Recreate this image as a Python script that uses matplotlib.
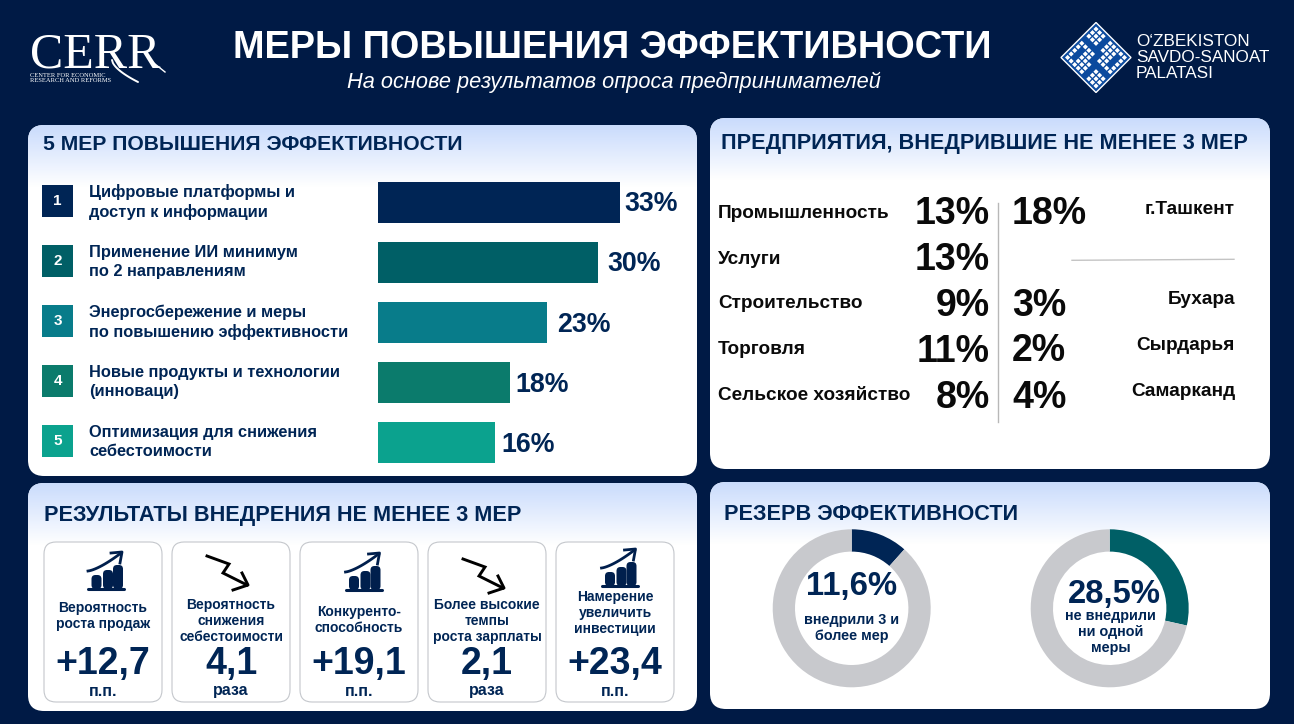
import matplotlib
matplotlib.use('Agg')
import matplotlib.pyplot as plt
import numpy as np
from matplotlib.patches import FancyBboxPatch, Rectangle, Polygon

plt.rcParams['font.family'] = ['Liberation Sans', 'DejaVu Sans']

measures = ['Цифровые платформы и\nдоступ к информации',
            'Применение ИИ минимум\nпо 2 направлениям',
            'Энергосбережение и меры\nпо повышению эффективности',
            'Новые продукты и технологии\n(инноваци)',
            'Оптимизация для снижения\nсебестоимости']
measure_vals = [33, 30, 23, 18, 16]
measure_cols = ['#002555', '#005F66', '#087C8A', '#0B7B6C', '#0BA28E']

sectors = ['Промышленность', 'Услуги', 'Строительство', 'Торговля', 'Сельское хозяйство']
sector_vals = [13, 13, 9, 11, 8]
regions = ['г.Ташкент', 'Бухара', 'Сырдарья', 'Самарканд']
region_vals = [18, 3, 2, 4]

card_labels = ['Вероятность\nроста продаж', 'Вероятность\nснижения\nсебестоимости',
               'Конкуренто-\nспособность', 'Более высокие\nтемпы\nроста зарплаты',
               'Намерение\nувеличить\nинвестиции']
card_vals = ['+12,7', '4,1', '+19,1', '2,1', '+23,4']
card_units = ['п.п.', 'раза', 'п.п.', 'раза', 'п.п.']
card_up = [True, False, True, False, True]

donut_vals = [11.6, 28.5]
donut_cols = ['#002555', '#005F66']

NAVY = '#002555'
BG = '#001A45'
INK = '#0A0A0A'
W, H = 1294, 724

fig = plt.figure(figsize=(W / 100, H / 100), dpi=100, facecolor=BG)
ax = fig.add_axes([0, 0, 1, 1], zorder=0)
ax.set_xlim(0, W)
ax.set_ylim(H, 0)
ax.axis('off')

grad = np.linspace(0, 1, 256).reshape(-1, 1)
c0 = np.array([0.79, 0.86, 0.99])
c1 = np.array([1.0, 1.0, 1.0])
grad_img = c0 + (c1 - c0) * grad[..., None]


def panel(x0, y0, x1, y1, title, tx, ty, fs):
    box = FancyBboxPatch((x0 + 16, y0 + 16), x1 - x0 - 32, y1 - y0 - 32,
                         boxstyle='round,pad=16,rounding_size=16', fc='white', ec='none', zorder=1)
    ax.add_patch(box)
    im = ax.imshow(grad_img, extent=(x0, x1, y0 + 62, y0), aspect='auto', zorder=1.1)
    im.set_clip_path(box)
    ax.set_xlim(0, W)
    ax.set_ylim(H, 0)
    ax.text(tx, ty, title, fontsize=fs, fontweight='bold', color=NAVY, va='center', ha='left', zorder=3)


# header
ax.text(612, 48, 'МЕРЫ ПОВЫШЕНИЯ ЭФФЕКТИВНОСТИ', color='white', fontsize=27.4, fontweight='bold',
        ha='center', va='center')
ax.text(614, 82, 'На основе результатов опроса предпринимателей', color='white', fontsize=15.65,
        style='italic', ha='center', va='center')

# CERR logo
ax.text(30, 68, 'CERR', color='white', fontsize=36, family='Liberation Serif', ha='left', va='baseline')
ax.text(30, 78, 'CENTER FOR ECONOMIC\nRESEARCH AND REFORMS', color='white', fontsize=4.7,
        family='Liberation Serif', ha='left', va='center', linespacing=0.95)
t = np.linspace(0, 1, 30)
ax.plot(112 + 26 * t, 60 + 22 * t ** 0.6, color='white', lw=1.4, solid_capstyle='round')
ax.plot(150 + 15 * t, 60 + 12 * t, color='white', lw=1)

# chamber logo
cx, cy, r = 1096, 57.5, 35
ax.add_patch(Polygon([(cx, cy - r), (cx + r, cy), (cx, cy + r), (cx - r, cy)], fc='#0B4A9E', ec='white', lw=1))
cells = ['XXX.XXXXX', 'XXX.XXX.X', 'XXX.XXX.X', '.....XX.X', 'XXXX.XXXX',
         'X.XX.....', 'X.XXX.XXX', 'X.XXX.XXX', 'XXXXX.XXX']
a, s = 3.55, 2.6
for i, row in enumerate(cells):
    for j, ch in enumerate(row):
        if ch != 'X':
            continue
        px, py = cx + (j - i) * a, cy + (i + j - 8) * a
        ax.add_patch(Polygon([(px, py - s), (px + s, py), (px, py + s), (px - s, py)], fc='white', ec='none', zorder=2))
for y, line in zip((41, 57, 73), ('O‘ZBEKISTON', 'SAVDO-SANOAT', 'PALATASI')):
    ax.text(1136, y, line, color='white', fontsize=12.3, va='center', ha='left')

panel(28, 125, 697, 476, '5 МЕР ПОВЫШЕНИЯ ЭФФЕКТИВНОСТИ', 43, 145, 15.2)
panel(710, 118, 1270, 469, 'ПРЕДПРИЯТИЯ, ВНЕДРИВШИЕ НЕ МЕНЕЕ 3 МЕР', 721, 144, 15.6)
panel(28, 483, 697, 711, 'РЕЗУЛЬТАТЫ ВНЕДРЕНИЯ НЕ МЕНЕЕ 3 МЕР', 44, 515, 15.6)
panel(710, 482, 1270, 709, 'РЕЗЕРВ ЭФФЕКТИВНОСТИ', 724, 515, 15.6)

# panel 1: ranked bars
bar_ax = fig.add_axes([378 / W, 1 - 473 / H, 242 / W, 301 / H], zorder=1)
bar_ax.patch.set_alpha(0)
y_pos = np.arange(len(measure_vals))
bar_ax.barh(y_pos, measure_vals, height=0.68, color=measure_cols)
bar_ax.set_xlim(0, 33)
bar_ax.set_ylim(4.5, -0.5)
bar_ax.axis('off')
label_gap = [3.3, 7.0, 7.6, 4.2, 4.2]
for i, v in enumerate(measure_vals):
    bar_ax.annotate(f'{v}%', (v, i), xytext=(label_gap[i], -1.5), textcoords='offset points', color=NAVY,
                    fontsize=19.3, fontweight='bold', va='center', ha='left', annotation_clip=False)
for i, (label, col) in enumerate(zip(measures, measure_cols)):
    yc = 201 + i * 60
    ax.add_patch(Rectangle((42, yc - 16), 31, 32, fc=col, ec='none', zorder=3))
    ax.text(57.5, yc, str(i + 1), color='white', fontsize=11, fontweight='bold', ha='center', va='center', zorder=4)
    ax.text(89, yc + 1, label, color=NAVY, fontsize=11.75, fontweight='bold', ha='left', va='center',
            linespacing=1.3, zorder=4)

# panel 2: sectors and regions
sector_y = [212, 257, 302, 348, 393]
sector_num_y = [212, 258, 304, 350, 396]
for name, val, y, ny in zip(sectors, sector_vals, sector_y, sector_num_y):
    ax.text(718, y + 2, name, color=INK, fontsize=13.7, fontweight='bold', ha='left', va='center', zorder=3)
    ax.text(990, ny + 2, f'{val}%', color=INK, fontsize=27, fontweight='bold', ha='right', va='center', zorder=3)
region_y = [212, 304, 349, 396]
region_label_y = [207, 298, 343, 389]
for name, val, y, ly in zip(regions, region_vals, region_y, region_label_y):
    ax.text(1012, y + 2, f'{val}%', color=INK, fontsize=27, fontweight='bold', ha='left', va='center', zorder=3)
    ax.text(1235, ly + 2, name, color=INK, fontsize=13.7, fontweight='bold', ha='right', va='center', zorder=3)
ax.plot([997.5, 997.5], [203, 422], color='#B8B8B8', lw=1, zorder=3)
ax.plot([1072, 1234], [260.3, 259.3], color='#C4C4C4', lw=1, zorder=3)


# panel 3: cards
def icon_up(xc, base):
    for left, width, h in zip((-14.5, -3, 7), (10, 10, 10), (14, 19, 24)):
        ax.add_patch(FancyBboxPatch((xc + left, base - h), width, h, boxstyle='round,pad=0,rounding_size=4',
                                    fc='#001F4D', ec='none', zorder=4))
    ax.plot([xc - 18, xc + 18], [base, base], color='#001F4D', lw=2.2, solid_capstyle='round', zorder=4)
    t = np.linspace(0, 1, 20)
    ax.plot(xc - 18 + 33 * t, base - 18 - 18 * t ** 1.4, color='#001F4D', lw=2, zorder=4)
    ax.plot([xc + 5, xc + 16, xc + 14], [base - 36, base - 37, base - 26], color='#001F4D', lw=2, zorder=4)


def icon_down(xc, yc):
    ax.plot([xc - 24, xc - 2, xc - 8, xc + 16], [yc - 17, yc - 9, yc, yc + 12], color='black', lw=2.1,
            solid_joinstyle='miter', zorder=4)
    ax.plot([xc + 11, xc + 17, xc + 2], [yc, yc + 12, yc + 17], color='black', lw=2.1, zorder=4)


card_x = [44, 172, 300, 428, 556]
label_y = [616, 621, 620, 621, 613]
icon_dx = [3, 0, 4.5, 0, 4.5]
icon_y = [589, 573, 590, 576, 586]
for i, x0 in enumerate(card_x):
    ax.add_patch(FancyBboxPatch((x0 + 12, 554), 94, 136, boxstyle='round,pad=12,rounding_size=12',
                                fc='white', ec='#C4C7CC', lw=0.8, zorder=3))
    xc = x0 + 59
    if card_up[i]:
        icon_up(xc + icon_dx[i], icon_y[i])
    else:
        icon_down(xc, icon_y[i])
    ax.text(xc, label_y[i], card_labels[i], color=NAVY, fontsize=10, fontweight='bold', ha='center', va='center',
            linespacing=1.2, zorder=4)
    ax.text(xc, 664, card_vals[i], color=NAVY, fontsize=27, fontweight='bold', ha='center', va='center', zorder=4)
    ax.text(xc, 691, card_units[i], color=NAVY, fontsize=11.5, fontweight='bold', ha='center', va='center', zorder=4)

# panel 4: donuts
donut_text = [('внедрили 3 и\nболее мер', 851.7, 587, 628), ('не внедрили\nни одной\nмеры', 1110.7, 594, 632)]
value_x = [851.7, 1114]
for i, (cx_d, val, col) in enumerate(zip([851.7, 1109.7], donut_vals, donut_cols)):
    size = 79 * 2
    d_ax = fig.add_axes([(cx_d - 79) / W, 1 - (608.3 + 79) / H, size / W, size / H], zorder=1)
    d_ax.pie([val, 100 - val], colors=[col, '#C8C9CD'], startangle=90, counterclock=False, radius=1,
             wedgeprops=dict(width=1 - 56.7 / 79))
    d_ax.set_xlim(-1, 1)
    d_ax.set_ylim(-1, 1)
    label, tx, vy, ty = donut_text[i]
    ax.text(value_x[i], vy, f'{val:.1f}%'.replace('.', ','), color=NAVY, fontsize=23.6, fontweight='bold',
            ha='center', va='center', zorder=4)
    ax.text(tx, ty, label, color=NAVY, fontsize=10.4, fontweight='bold', ha='center', va='center',
            linespacing=1.15, zorder=4)

fig.savefig('out.png', dpi=100, facecolor=BG)
